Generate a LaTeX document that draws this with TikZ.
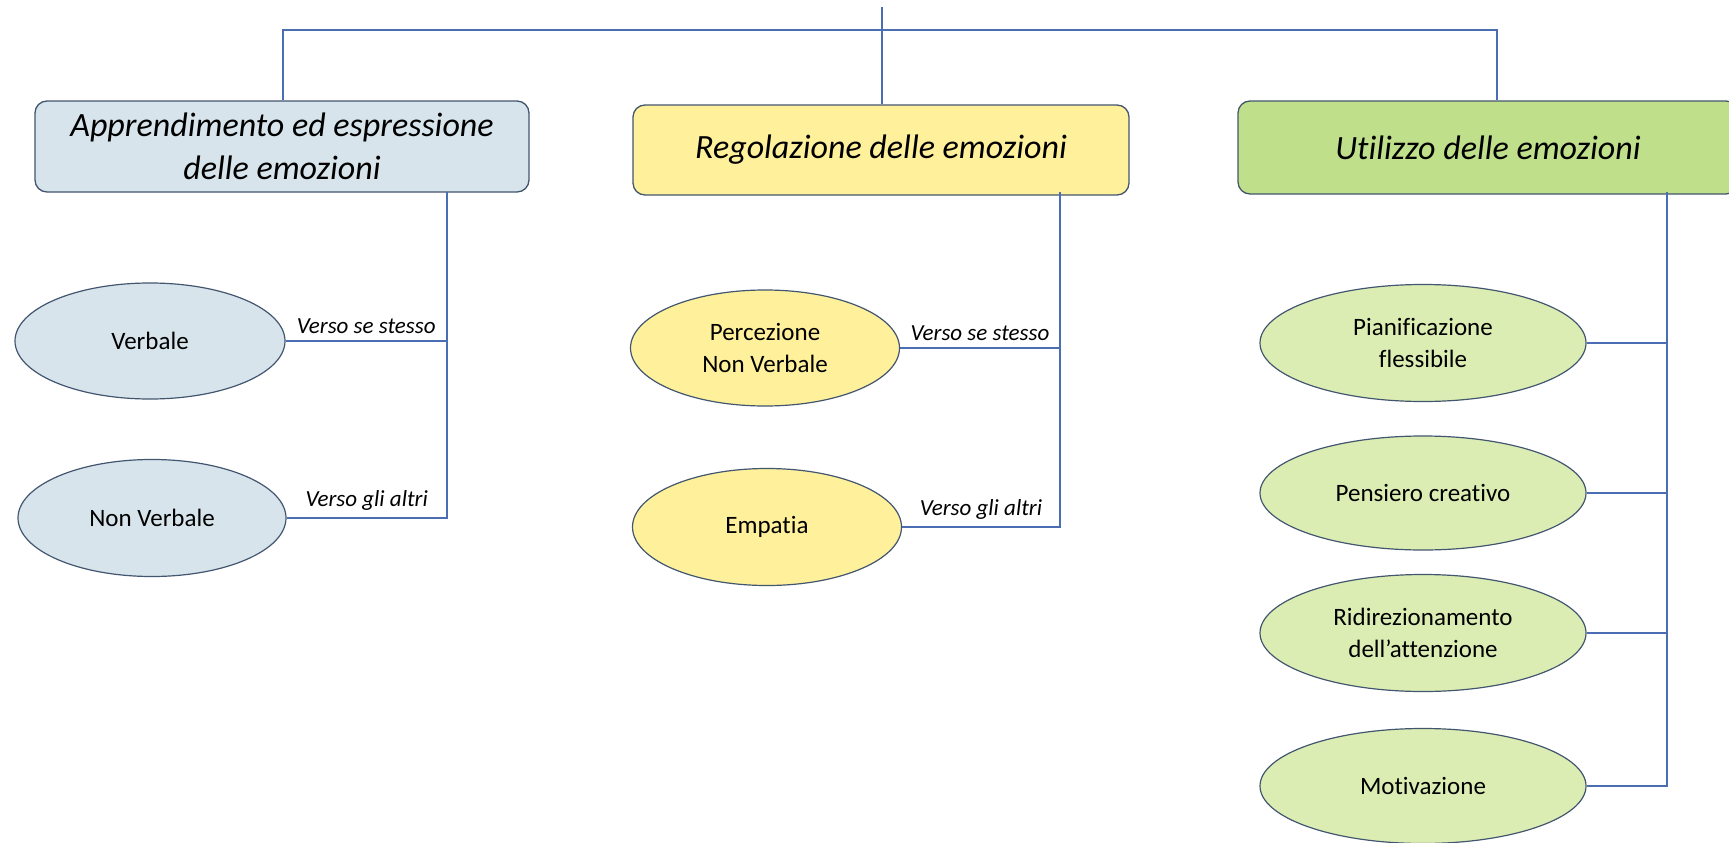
\documentclass[tikz,border=0pt]{standalone}
\usepackage{fontspec}
\setmainfont{Carlito}[Ligatures=NoCommon]
\usetikzlibrary{shapes.geometric}
\definecolor{linea}{HTML}{4A6DB3}
\definecolor{bordo}{HTML}{43566F}
\definecolor{azzurro}{HTML}{D7E4EB}
\definecolor{giallo}{HTML}{FFF09C}
\definecolor{verde}{HTML}{C0DF8A}
\definecolor{verdino}{HTML}{DCEDB3}
\begin{document}
\begin{tikzpicture}[x=1pt,y=-1pt]
  \tikzstyle{titolo}=[draw=bordo,line width=1.3pt,rounded corners=12pt,align=center,
                      font=\fontsize{34}{43}\selectfont\itshape,inner sep=0pt]
  \tikzstyle{voce}=[ellipse,draw=bordo,line width=1.2pt,align=center,inner sep=0pt,
                    font=\fontsize{25}{32}\selectfont]
  \tikzstyle{etichetta}=[font=\fontsize{23}{26}\selectfont\itshape,inner sep=7pt]
  \tikzstyle{ramo}=[draw=linea,line width=1.6pt]
  \useasboundingbox (0,0) rectangle (1729,843);
  % titoli
  \node[titolo,fill=azzurro,minimum width=494,minimum height=91] (app) at (282,146.5)
       {Apprendimento ed espressione\\delle emozioni};
  \node[titolo,fill=giallo,minimum width=496,minimum height=90] (reg) at (881,150)
       {Regolazione delle emozioni};
  \node[titolo,fill=verde,minimum width=500,minimum height=93] (uti) at (1488,147.5)
       {Utilizzo delle emozioni};
  % radice
  \coordinate (radice) at (882,7);
  \coordinate (sx) at (283,30);
  \coordinate (dx) at (1497,30);
  \draw[ramo] (radice) -- (reg.north -| radice);
  \draw[ramo] (app.north -| sx) -- (sx) -- (dx) -- (uti.north -| dx);
  % ovali
  \node[voce,fill=azzurro,minimum width=270,minimum height=116] (verb) at (150,341) {Verbale};
  \node[voce,fill=azzurro,minimum width=268,minimum height=117] (nonverb) at (152,518) {Non Verbale};
  \node[voce,fill=giallo,minimum width=269,minimum height=116] (perc) at (765,348) {Percezione\\Non Verbale};
  \node[voce,fill=giallo,minimum width=269,minimum height=117] (emp) at (767,527) {Empatia};
  \node[voce,fill=verdino,minimum width=326,minimum height=117] (pian) at (1423,343) {Pianificazione\\flessibile};
  \node[voce,fill=verdino,minimum width=326,minimum height=114] (pens) at (1423,493) {Pensiero creativo};
  \node[voce,fill=verdino,minimum width=326,minimum height=117] (ridir) at (1423,633) {Ridirezionamento\\dell’attenzione};
  \node[voce,fill=verdino,minimum width=326,minimum height=115] (motiv) at (1423,786) {Motivazione};
  % rami
  \coordinate (a1) at (447,0);
  \coordinate (a2) at (1060,0);
  \coordinate (a3) at (1667,0);
  \draw[ramo] ([yshift=1pt]app.south -| a1) -- (nonverb.east -| a1) -- (nonverb.east)
        node[pos=0.5,above,etichetta] {Verso gli altri};
  \draw[ramo] (verb.east) -- node[above,etichetta] {Verso se stesso} (verb.east -| a1);
  \draw[ramo] ([yshift=4pt]reg.south -| a2) -- (emp.east -| a2) -- (emp.east)
        node[pos=0.5,above,etichetta] {Verso gli altri};
  \draw[ramo] (perc.east) -- node[above,etichetta] {Verso se stesso} (perc.east -| a2);
  \draw[ramo] ([yshift=3pt]uti.south -| a3) -- (motiv.east -| a3) -- (motiv.east);
  \draw[ramo] (pian.east) -- (pian.east -| a3);
  \draw[ramo] (pens.east) -- (pens.east -| a3);
  \draw[ramo] (ridir.east) -- (ridir.east -| a3);
\end{tikzpicture}
\end{document}
